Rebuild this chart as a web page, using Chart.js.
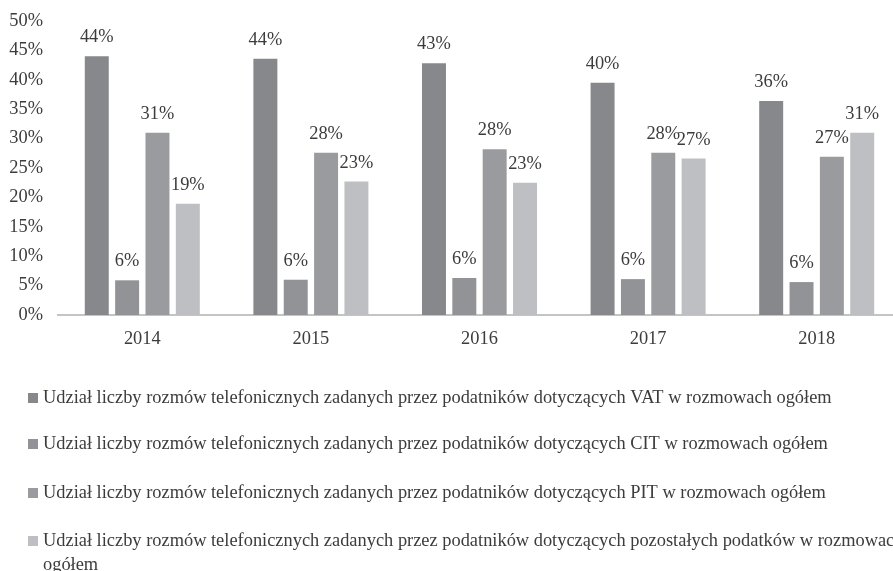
<!DOCTYPE html>
<html lang="pl">
<head>
<meta charset="utf-8">
<title>Udział rozmów telefonicznych według podatku</title>
<script src="https://cdn.jsdelivr.net/npm/chart.js@4/dist/chart.umd.min.js"></script>
<style>
  html, body { margin: 0; padding: 0; background: #ffffff; }
  #wrap { position: relative; width: 893px; height: 571px; overflow: hidden; }
</style>
</head>
<body>
<div id="wrap"><canvas id="chart" width="901" height="571"></canvas></div>
<script>
// Lata
const years = ['2014', '2015', '2016', '2017', '2018'];

// Udział (%) rozmów w rozmowach ogółem
const vatShare    = [44.0, 43.6, 42.8, 39.5, 36.4];
const citShare    = [5.9, 6.0, 6.3, 6.1, 5.6];
const pitShare    = [31.0, 27.6, 28.2, 27.6, 26.9];
const otherShare  = [18.9, 22.7, 22.5, 26.6, 31.0];

// Podpisy serii
const seriesLabels = [
  'Udział liczby rozmów telefonicznych zadanych przez podatników dotyczących VAT w rozmowach ogółem',
  'Udział liczby rozmów telefonicznych zadanych przez podatników dotyczących CIT w rozmowach ogółem',
  'Udział liczby rozmów telefonicznych zadanych przez podatników dotyczących PIT w rozmowach ogółem',
  'Udział liczby rozmów telefonicznych zadanych przez podatników dotyczących pozostałych podatków w rozmowach ogółem'
];

// Podziałka osi Y
const yTicks = [0, 5, 10, 15, 20, 25, 30, 35, 40, 45, 50];

const seriesColors = ['#87888c', '#929396', '#9a9b9e', '#bebfc2'];
const FONT = '"Liberation Serif", "Times New Roman", serif';
const FSIZE = 18.4;
const TEXT = '#3c3c3c';

// Etykiety wartości nad słupkami
const valueLabels = {
  id: 'valueLabels',
  afterDatasetsDraw(chart) {
    const ctx = chart.ctx;
    ctx.save();
    ctx.font = FSIZE + 'px ' + FONT;
    ctx.fillStyle = TEXT;
    ctx.textAlign = 'center';
    ctx.textBaseline = 'alphabetic';
    chart.data.datasets.forEach((ds, i) => {
      chart.getDatasetMeta(i).data.forEach((bar, j) => {
        ctx.fillText(Math.round(ds.data[j]) + '%', bar.x, bar.y - 14);
      });
    });
    ctx.restore();
  }
};

// Legenda pod wykresem, z zawijaniem długich opisów
const bottomLegend = {
  id: 'bottomLegend',
  afterDraw(chart) {
    const ctx = chart.ctx;
    const rowsY = [398, 444, 493, 541];
    const textX = 43;
    const maxW = 872;
    ctx.save();
    ctx.font = FSIZE + 'px ' + FONT;
    ctx.textAlign = 'left';
    ctx.textBaseline = 'middle';
    chart.data.datasets.forEach((ds, i) => {
      const y = rowsY[i];
      ctx.fillStyle = ds.backgroundColor;
      ctx.fillRect(28, y - 5, 10, 10);
      ctx.fillStyle = TEXT;
      const words = ds.label.split(' ');
      let line = '';
      let ly = y;
      words.forEach(w => {
        const test = line ? line + ' ' + w : w;
        if (line && ctx.measureText(test).width > maxW) {
          ctx.fillText(line, textX, ly);
          line = w;
          ly += 24;
        } else {
          line = test;
        }
      });
      ctx.fillText(line, textX, ly);
    });
    ctx.restore();
  }
};

new Chart(document.getElementById('chart'), {
  type: 'bar',
  data: {
    labels: years,
    datasets: [vatShare, citShare, pitShare, otherShare].map((d, i) => ({
      label: seriesLabels[i],
      data: d,
      backgroundColor: seriesColors[i],
      borderWidth: 0,
      categoryPercentage: 0.72,
      barPercentage: 0.79
    }))
  },
  options: {
    responsive: false,
    animation: false,
    layout: { padding: { top: 21, right: 0, bottom: 0, left: 0 } },
    plugins: {
      legend: { display: false },
      tooltip: { enabled: false }
    },
    scales: {
      x: {
        grid: { display: false, drawTicks: false },
        border: { display: true, color: '#c4c4c4', width: 2 },
        ticks: {
          color: TEXT,
          font: { family: FONT, size: FSIZE },
          padding: 13
        },
        afterFit(scale) { scale.height = 256; }
      },
      y: {
        min: 0,
        max: 50,
        grid: { display: false, drawTicks: false },
        border: { display: false },
        afterBuildTicks(scale) { scale.ticks = yTicks.map(v => ({ value: v })); },
        ticks: {
          color: TEXT,
          font: { family: FONT, size: FSIZE },
          padding: 15,
          callback: v => v + '%'
        },
        afterFit(scale) {
          scale.width = 58;
          scale.paddingTop = 0;
          scale.paddingBottom = 0;
        }
      }
    }
  },
  plugins: [valueLabels, bottomLegend]
});
</script>
</body>
</html>
